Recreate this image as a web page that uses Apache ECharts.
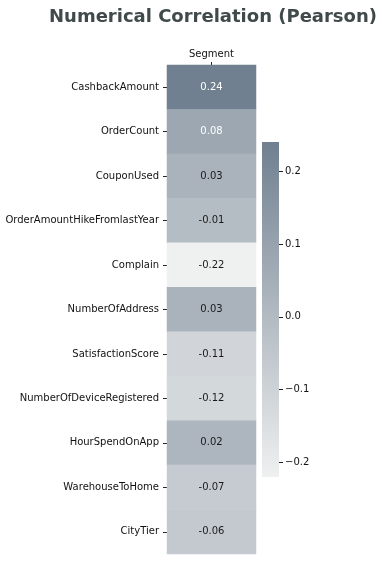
<!DOCTYPE html>
<html><head><meta charset="utf-8">
<script src="https://cdn.jsdelivr.net/npm/echarts@6/dist/echarts.min.js"></script>
<style>html,body{margin:0;padding:0;background:#fff}#c{width:382px;height:561px}</style>
</head><body><div id="c"></div>
<script>
const features = ['CashbackAmount','OrderCount','CouponUsed','OrderAmountHikeFromlastYear','Complain','NumberOfAddress','SatisfactionScore','NumberOfDeviceRegistered','HourSpendOnApp','WarehouseToHome','CityTier'];
const columns = ['Segment'];
const corrValues = [0.24, 0.08, 0.03, -0.01, -0.22, 0.03, -0.11, -0.12, 0.02, -0.07, -0.06];
const colorbarTicks = [-0.2, -0.1, 0.0, 0.1, 0.2];
const vMin = -0.22, vMax = 0.24;
const palette = ['#eff0f0', '#708090'];

const data = corrValues.map((v, i) => ({
  value: [0, i, v],
  label: { color: v > 0.05 ? '#ffffff' : '#1a1a1a' }
}));

const chart = echarts.init(document.getElementById('c'), null, {renderer: 'canvas'});
const font = 'DejaVu Sans';
const txt = '#111111';
chart.setOption({
  animation: false,
  textStyle: { fontFamily: font },
  title: {
    text: 'Numerical Correlation (Pearson)',
    left: 44, top: 3,
    textStyle: { fontFamily: font, fontSize: 18, fontWeight: 'bold', color: '#404a4a' }
  },
  grid: [
    { left: 167, top: 65, width: 89, height: 489, outerBoundsMode: 'none', containLabel: false },
    { left: 262, top: 142, width: 17, height: 335, outerBoundsMode: 'none', containLabel: false }
  ],
  xAxis: [
    { type: 'category', data: columns, position: 'top', gridIndex: 0,
      axisLine: { show: false }, splitLine: { show: false },
      axisTick: { show: true, alignWithLabel: true, length: 3, lineStyle: { color: '#222' } },
      axisLabel: { fontSize: 10, color: txt, fontFamily: font, margin: 6 } },
    { type: 'category', data: [''], gridIndex: 1, show: false }
  ],
  yAxis: [
    { type: 'category', data: features, inverse: true, gridIndex: 0,
      axisLine: { show: false }, splitLine: { show: false },
      axisTick: { show: true, alignWithLabel: true, length: 4, lineStyle: { color: '#222' } },
      axisLabel: { fontSize: 10, color: txt, fontFamily: font, margin: 8 } },
    { type: 'value', gridIndex: 1, position: 'right', min: vMin, max: vMax,
      axisLine: { show: false }, splitLine: { show: false },
      axisTick: { show: true, length: 4, customValues: colorbarTicks, lineStyle: { color: '#222' } },
      axisLabel: { fontSize: 10, color: txt, fontFamily: font, margin: 6,
        customValues: colorbarTicks,
        formatter: v => v.toFixed(1).replace('-', '\u2212') } }
  ],
  visualMap: {
    show: false, min: vMin, max: vMax, dimension: 2, seriesIndex: 0,
    inRange: { color: palette }
  },
  graphic: [{
    type: 'rect', shape: { x: 262, y: 142, width: 17, height: 335 }, z: 0,
    style: { fill: new echarts.graphic.LinearGradient(0, 0, 0, 1, [
      { offset: 0, color: palette[1] }, { offset: 1, color: palette[0] }
    ]) }
  }],
  series: [{
    type: 'heatmap', xAxisIndex: 0, yAxisIndex: 0, data: data,
    label: { show: true, fontSize: 10, fontFamily: font, formatter: p => p.value[2].toFixed(2) },
    itemStyle: { borderWidth: 0 },
    emphasis: { disabled: true }
  }]
});
</script></body></html>
